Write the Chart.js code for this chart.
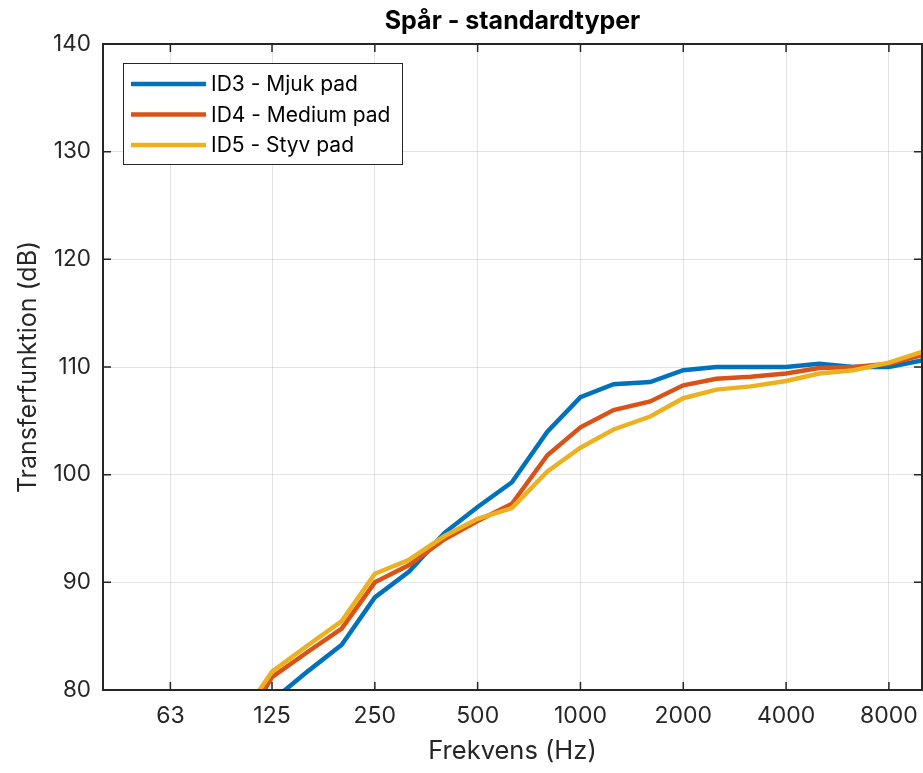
<!DOCTYPE html>
<html><head><meta charset="utf-8">
<script src="https://cdn.jsdelivr.net/npm/chart.js@4/dist/chart.umd.min.js"></script>
<style>html,body{margin:0;padding:0;background:#fff}canvas{display:block}</style>
</head><body>
<canvas id="c" width="923" height="773"></canvas>
<script>
// Third-octave band centre frequencies (Hz)
const freqs = [100,125,160,200,250,315,400,500,630,800,1000,1250,1600,2000,2500,3150,4000,5000,6300,8000,10000];
const seriesNames = ['ID3 - Mjuk pad','ID4 - Medium pad','ID5 - Styv pad'];
const id3Mjuk   = [76.0,79.0,81.8,84.2,88.6,91.0,94.6,97.0,99.3,104.0,107.2,108.4,108.6,109.7,110.0,110.0,110.0,110.3,110.0,110.0,110.6];
const id4Medium = [76.0,81.2,83.6,85.7,90.0,91.6,94.0,95.7,97.3,101.8,104.4,106.0,106.8,108.3,108.9,109.1,109.4,109.9,110.0,110.3,111.1];
const id5Styv   = [77.2,81.7,84.2,86.4,90.8,92.1,94.3,95.9,96.9,100.3,102.5,104.2,105.4,107.1,107.9,108.2,108.7,109.4,109.7,110.4,111.4];
const xTickValues = [63,125,250,500,1000,2000,4000,8000];
const xTickLabels = ['63','125','250','500','1000','2000','4000','8000'];
const yTickValues = [80,90,100,110,120,130,140];
const colors = ['#0072BD','#D95319','#EDB120'];

const FONT = 'Inter, "Liberation Sans", Arial, sans-serif';
const AX = '#262626';

function pts(vals){ return freqs.map((f,i)=>({x:f,y:vals[i]})); }

const frame = {
  id:'frame',
  afterDraw(chart){
    const {ctx, chartArea:a, scales:{x,y}} = chart;
    ctx.save();
    ctx.strokeStyle = AX; ctx.lineWidth = 1.5;
    ctx.beginPath();
    for (const v of xTickValues){
      const px = x.getPixelForValue(v);
      ctx.moveTo(px,a.bottom); ctx.lineTo(px,a.bottom-8);
      ctx.moveTo(px,a.top); ctx.lineTo(px,a.top+8);
    }
    for (const v of yTickValues){
      const py = y.getPixelForValue(v);
      ctx.moveTo(a.left,py); ctx.lineTo(a.left+8,py);
      ctx.moveTo(a.right,py); ctx.lineTo(a.right-8,py);
    }
    ctx.stroke();
    ctx.lineWidth = 2;
    ctx.strokeRect(a.left, a.top, a.right-a.left, a.bottom-a.top);
    // legend
    const lx = a.left+20, ly = a.top+19, lw = 279, lh = 101;
    ctx.fillStyle = '#fff';
    ctx.fillRect(lx,ly,lw,lh);
    ctx.lineWidth = 1; ctx.strokeStyle = AX;
    ctx.strokeRect(lx+0.5,ly+0.5,lw,lh);
    ctx.font = '21px ' + FONT;
    ctx.textBaseline = 'middle'; ctx.textAlign = 'left';
    chart.data.datasets.forEach((ds,i)=>{
      const ry = ly + 21 + i*30.5;
      ctx.strokeStyle = ds.borderColor; ctx.lineWidth = 4.5;
      ctx.beginPath(); ctx.moveTo(lx+8,ry); ctx.lineTo(lx+83,ry); ctx.stroke();
      ctx.fillStyle = '#000';
      ctx.fillText(ds.label, lx+88, ry+1);
    });
    ctx.restore();
  }
};

new Chart(document.getElementById('c'), {
  type:'line',
  data:{
    datasets:[
      {label:seriesNames[0], data:pts(id3Mjuk),   borderColor:colors[0], order:3},
      {label:seriesNames[1], data:pts(id4Medium), borderColor:colors[1], order:2},
      {label:seriesNames[2], data:pts(id5Styv),   borderColor:colors[2], order:1}
    ].map(d=>Object.assign(d,{borderWidth:4.5, pointRadius:0, tension:0, fill:false, clip:0, borderJoinStyle:'miter'}))
  },
  options:{
    responsive:false, animation:false,
    layout:{padding:{left:0,right:1,top:0,bottom:0}},
    plugins:{
      legend:{display:false}, tooltip:{enabled:false},
      title:{display:true, text:'Spår - standardtyper', color:'#000', fullSize:false,
        font:{family:FONT, size:25, weight:'bold'}, padding:{top:6,bottom:8}}
    },
    scales:{
      x:{type:'logarithmic', min:40, max:10000,
        afterBuildTicks(s){ s.ticks = xTickValues.map(v=>({value:v})); },
        afterFit(s){ s.height = 83; s.paddingLeft = 0; s.paddingRight = 0; },
        ticks:{autoSkip:false, maxRotation:0, padding:12, color:AX,
          font:{family:FONT, size:23},
          callback(v){ const i = xTickValues.indexOf(v); return i>=0 ? xTickLabels[i] : ''; }},
        grid:{color:'rgba(38,38,38,0.13)', lineWidth:1, drawTicks:false},
        border:{display:false},
        title:{display:true, text:'Frekvens (Hz)', color:AX, font:{family:FONT, size:25.5}, padding:{top:0,bottom:6}}
      },
      y:{type:'linear', min:80, max:140,
        afterBuildTicks(s){ s.ticks = yTickValues.map(v=>({value:v})); },
        afterFit(s){ s.width = 103; },
        ticks:{padding:12, color:AX, font:{family:FONT, size:22.5}},
        grid:{color:'rgba(38,38,38,0.13)', lineWidth:1, drawTicks:false},
        border:{display:false},
        title:{display:true, text:'Transferfunktion (dB)', color:AX, font:{family:FONT, size:25}, padding:{top:13,bottom:0}}
      }
    }
  },
  plugins:[frame]
});
</script>
</body></html>
